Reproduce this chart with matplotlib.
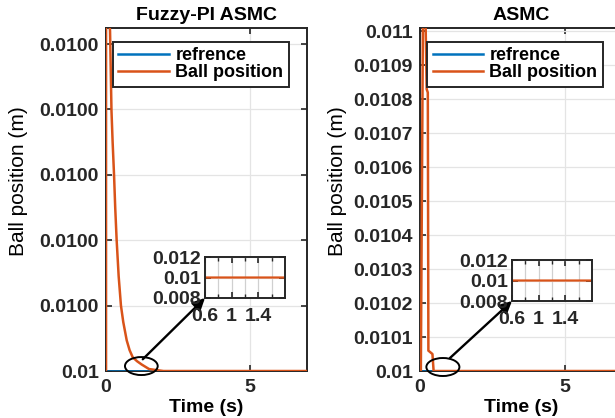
import numpy as np
import matplotlib
matplotlib.use("Agg")
import matplotlib.pyplot as plt
from matplotlib.patches import Ellipse

plt.rcParams["font.family"] = ["Liberation Sans", "DejaVu Sans"]

BLUE = "#0072BD"
ORANGE = "#D95319"
EDGE = "#262626"

# reference signal (both controllers)
ref_t = [0.0, 7.0]
ref_y = [0.01, 0.01]

# Fuzzy-PI ASMC response
fz_t = [0.0, 0.0, 0.14, 0.19, 0.23, 0.28, 0.32, 0.37, 0.44, 0.52, 0.6, 0.72,
        0.82, 0.93, 1.08, 1.24, 1.5, 2.0, 7.0]
fz_y = [0.0100000, 0.0100060, 0.0100052, 0.01000398, 0.0100035, 0.01000299,
        0.0100025, 0.0100020, 0.01000145, 0.0100010, 0.01000075, 0.01000047,
        0.01000032, 0.01000021, 0.01000015, 0.01000010, 0.01000003, 0.0100000, 0.0100000]

# ASMC response
as_t = [0.0, 0.03, 0.11, 0.17, 0.23, 0.27, 0.29, 0.43, 0.47, 7.0]
as_y = [0.01, 0.01, 0.01115, 0.01115, 0.01083, 0.01082, 0.01006, 0.01005, 0.01, 0.01]

fz_yticks = [0.01 + k * 1e-6 for k in range(6)]
fz_ylabels = ["0.01"] + ["0.0100"] * 5
as_yticks = [0.01 + k * 1e-4 for k in range(11)]
as_ylabels = ["0.01", "0.0101", "0.0102", "0.0103", "0.0104", "0.0105",
              "0.0106", "0.0107", "0.0108", "0.0109", "0.011"]
xticks = [0, 5]
inset_major = [0.6, 1.0, 1.4]
inset_major_labels = ["0.6", "1", "1.4"]
inset_minor = [0.8, 1.2, 1.6]
inset_yticks = [0.008, 0.01, 0.012]
inset_ylabels = ["0.008", "0.01", "0.012"]

FS = 14


def style_axes(ax):
    for s in ax.spines.values():
        s.set_color(EDGE)
        s.set_linewidth(1.4)
    ax.tick_params(direction="in", top=True, right=True, length=4, width=1.2,
                   colors=EDGE, labelsize=FS, pad=5)
    for lab in ax.get_xticklabels() + ax.get_yticklabels():
        lab.set_fontweight("bold")
    ax.grid(True, color="#e4e4e4", linewidth=0.9)
    ax.set_axisbelow(True)


fig = plt.figure(figsize=(6.15, 4.18), dpi=100)

panels = [
    dict(pos=[0.1724, 0.1124, 0.3268, 0.8206], t=fz_t, y=fz_y, title="Fuzzy-PI ASMC",
         ylim=(0.01, 0.01 + 5.245e-6), yticks=fz_yticks, ylabels=fz_ylabels,
         inset=[0.3333, 0.2871, 0.130, 0.098],
         ell=(1.23, 0.01 + 0.076e-6, 1.14, 0.275e-6), arr=(1.28, 0.01 + 0.18e-6),
         ylab_x=-0.388),
    dict(pos=[0.6829, 0.1124, 0.3300, 0.8206], t=as_t, y=as_y, title="ASMC",
         ylim=(0.01, 0.01101), yticks=as_yticks, ylabels=as_ylabels,
         inset=[0.8325, 0.2799, 0.130, 0.098],
         ell=(0.79, 0.0100118, 1.14, 0.000053), arr=(1.03, 0.010038),
         ylab_x=-0.36),
]

for p in panels:
    ax = fig.add_axes(p["pos"])
    ax.plot(ref_t, ref_y, color=BLUE, lw=1.8, label="refrence", zorder=3)
    ax.plot(p["t"], p["y"], color=ORANGE, lw=1.8, label="Ball position", zorder=3)
    ax.set_xlim(0, 7)
    ax.set_ylim(*p["ylim"])
    ax.set_xticks(xticks)
    ax.set_yticks(p["yticks"])
    ax.set_yticklabels(p["ylabels"])
    style_axes(ax)
    ax.tick_params(axis="x", pad=6)
    ax.set_title(p["title"], fontsize=FS, fontweight="bold", pad=6)
    ax.set_xlabel("Time (s)", fontsize=FS, fontweight="bold", labelpad=2)
    ax.set_ylabel("Ball position (m)", fontsize=15)
    ax.yaxis.set_label_coords(p["ylab_x"], 0.554)
    leg = ax.legend(loc="upper left", bbox_to_anchor=(0.035, 0.959), borderaxespad=0,
                    fancybox=False, framealpha=1, edgecolor=EDGE, handlelength=2.8,
                    handletextpad=0.35, labelspacing=0.0, borderpad=0.3,
                    prop=dict(size=13, weight="bold"))
    leg.get_frame().set_linewidth(1.4)
    leg.set_zorder(6)

    ex, ey, ew, eh = p["ell"]
    ax.add_patch(Ellipse((ex, ey), ew, eh, fill=False, edgecolor="black", lw=1.4,
                         clip_on=False, zorder=5))

    ins = fig.add_axes(p["inset"])
    ins.plot(p["t"], p["y"], color=ORANGE, lw=1.6)
    ins.set_xlim(0.6, 1.8)
    ins.set_ylim(0.008, 0.012)
    ins.set_xticks(inset_major)
    ins.set_xticklabels(inset_major_labels)
    ins.set_xticks(inset_minor, minor=True)
    ins.set_yticks(inset_yticks)
    ins.set_yticklabels(inset_ylabels)
    style_axes(ins)
    ins.tick_params(which="minor", direction="in", top=True, length=3, width=1.0, colors=EDGE)
    ins.tick_params(axis="x", pad=7)
    ins.tick_params(axis="y", pad=3)
    ins.grid(True, which="both", axis="x", color="#d0d0d0", linewidth=0.9)

    ax.annotate("", xy=(0, 0), xycoords=ins.transAxes, xytext=p["arr"], textcoords="data",
                arrowprops=dict(arrowstyle="-|>", color="black", lw=1.7,
                                mutation_scale=18, shrinkA=0, shrinkB=0),
                annotation_clip=False, zorder=6)

fig.savefig("out.png", dpi=100)
